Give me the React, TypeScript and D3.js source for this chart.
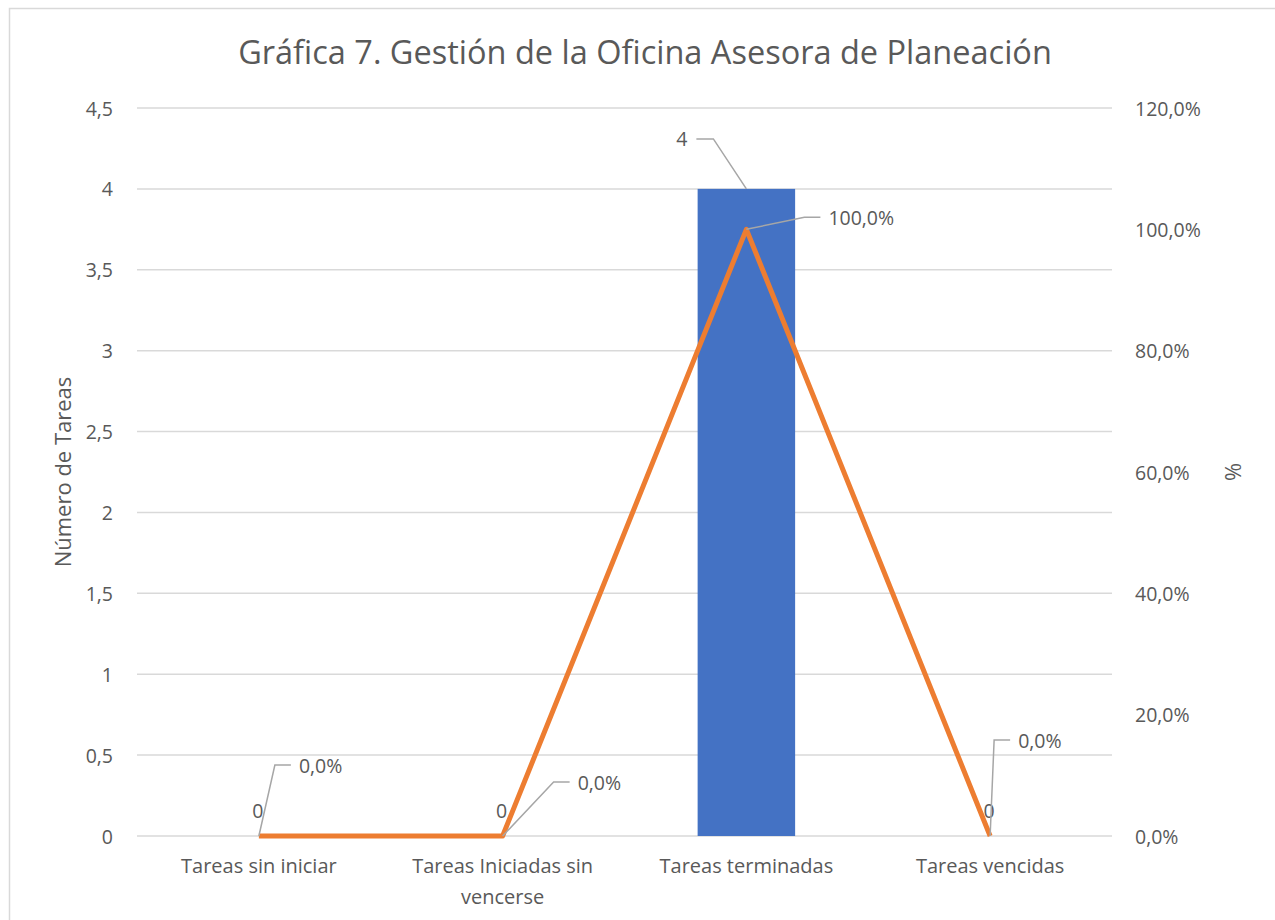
import { useMemo } from "react";
import * as d3 from "d3";

const categories = [
  ["Tareas sin iniciar"],
  ["Tareas Iniciadas sin", "vencerse"],
  ["Tareas terminadas"],
  ["Tareas vencidas"],
];
const tareas = [0, 0, 4, 0];
const porcentaje = [0, 0, 1, 0];
const leftTicks = [0, 0.5, 1, 1.5, 2, 2.5, 3, 3.5, 4, 4.5];
const rightTicks = [0, 0.2, 0.4, 0.6, 0.8, 1, 1.2];

const title = "Gráfica 7. Gestión de la Oficina Asesora de Planeación";
const yLabel = "Número de Tareas";
const y2Label = "%";

// manual placement of the data labels (dx, dy from the point), like the moved labels in the original
const barLabelOffsets = [
  { dx: 0, dy: -26, lead: false },
  { dx: 0, dy: -26, lead: false },
  { dx: -64, dy: -50, lead: true },
  { dx: 0, dy: -26, lead: false },
];
const lineLabelOffsets = [
  { dx: 40, dy: -71 },
  { dx: 75, dy: -54 },
  { dx: 82, dy: -12 },
  { dx: 28, dy: -96 },
];

const fmtLeft = (v: number) => String(v).replace(".", ",");
const fmtPct = (v: number) => (v * 100).toFixed(1).replace(".", ",") + "%";

const TEXT = "#595959";
const GRID = "#D9D9D9";
const FONT = "'Open Sans', Lato, sans-serif";

export default function App() {
  const width = 1275;
  const height = 920;
  const margin = { top: 108, right: 163, bottom: 84, left: 137 };
  const boundsWidth = width - margin.left - margin.right;
  const boundsHeight = height - margin.top - margin.bottom;

  const xScale = useMemo(
    () =>
      d3
        .scaleBand()
        .domain(categories.map((c) => c.join(" ")))
        .range([0, boundsWidth])
        .padding(0),
    [boundsWidth]
  );
  const yScale = useMemo(
    () => d3.scaleLinear().domain([0, 4.5]).range([boundsHeight, 0]),
    [boundsHeight]
  );
  const y2Scale = useMemo(
    () => d3.scaleLinear().domain([0, 1.2]).range([boundsHeight, 0]),
    [boundsHeight]
  );

  const cx = (i: number) =>
    (xScale(categories[i].join(" ")) ?? 0) + xScale.bandwidth() / 2;
  const barW = xScale.bandwidth() * 0.4;

  const linePath = d3
    .line<number>()
    .x((_, i) => cx(i))
    .y((d) => y2Scale(d))(porcentaje);

  return (
    <svg
      width={width}
      height={height}
      style={{ position: "absolute", left: 0, top: 0, display: "block" }}
      fontFamily={FONT}
    >
      <rect x={0} y={0} width={width} height={height} fill="#fff" />
      <rect
        x={9.5}
        y={8.5}
        width={width + 20}
        height={height + 20}
        fill="none"
        stroke={GRID}
        strokeWidth={1.5}
      />
      <text x={645} y={64} textAnchor="middle" fontSize={32.5} fill={TEXT}>
        {title}
      </text>

      <g transform={`translate(${margin.left},${margin.top})`}>
        {leftTicks.map((t) => (
          <g key={t}>
            <line
              x1={0}
              x2={boundsWidth}
              y1={yScale(t)}
              y2={yScale(t)}
              stroke={GRID}
              strokeWidth={1.5}
            />
            <text
              x={-24}
              y={yScale(t)}
              textAnchor="end"
              dominantBaseline="central"
              fontSize={19.5}
              fill={TEXT}
            >
              {fmtLeft(t)}
            </text>
          </g>
        ))}
        {rightTicks.map((t) => (
          <text
            key={t}
            x={boundsWidth + 23}
            y={y2Scale(t)}
            dominantBaseline="central"
            fontSize={19.5}
            fill={TEXT}
          >
            {fmtPct(t)}
          </text>
        ))}

        {tareas.map((v, i) =>
          v > 0 ? (
            <rect
              key={i}
              x={cx(i) - barW / 2}
              y={yScale(v)}
              width={barW}
              height={boundsHeight - yScale(v)}
              fill="#4472C4"
            />
          ) : null
        )}

        <path
          d={linePath ?? ""}
          fill="none"
          stroke="#ED7D31"
          strokeWidth={5}
          strokeLinejoin="round"
        />

        {tareas.map((v, i) => {
          const o = barLabelOffsets[i];
          const px = cx(i);
          const py = yScale(v);
          const lx = px + o.dx;
          const ly = py + o.dy;
          return (
            <g key={i}>
              {o.lead && (
                <polyline
                  points={`${px},${py} ${lx + 31},${ly} ${lx + 14},${ly}`}
                  fill="none"
                  stroke="#A6A6A6"
                  strokeWidth={1.5}
                />
              )}
              <text
                x={o.lead ? lx + 5 : px - 1}
                y={ly}
                textAnchor={o.lead ? "end" : "middle"}
                dominantBaseline="central"
                fontSize={19.5}
                fill={TEXT}
              >
                {v}
              </text>
            </g>
          );
        })}

        {porcentaje.map((v, i) => {
          const o = lineLabelOffsets[i];
          const px = cx(i);
          const py = y2Scale(v);
          const lx = px + o.dx;
          const ly = py + o.dy;
          return (
            <g key={i}>
              <polyline
                points={`${px},${py} ${lx - 24},${ly} ${lx - 8},${ly}`}
                fill="none"
                stroke="#A6A6A6"
                strokeWidth={1.5}
              />
              <text
                x={lx}
                y={ly}
                dominantBaseline="central"
                fontSize={19.5}
                fill={TEXT}
              >
                {fmtPct(v)}
              </text>
            </g>
          );
        })}

        {categories.map((lines, i) => (
          <text
            key={i}
            x={cx(i)}
            y={boundsHeight + 37}
            textAnchor="middle"
            fontSize={20}
            fill={TEXT}
          >
            {lines.map((l, j) => (
              <tspan key={j} x={cx(i)} dy={j === 0 ? 0 : 31}>
                {l}
              </tspan>
            ))}
          </text>
        ))}

        <text
          transform={`translate(${-75},${boundsHeight / 2}) rotate(-90)`}
          textAnchor="middle"
          dominantBaseline="central"
          fontSize={22}
          fill={TEXT}
        >
          {yLabel}
        </text>
        <text
          transform={`translate(${boundsWidth + 120},${boundsHeight / 2}) rotate(-90)`}
          textAnchor="middle"
          dominantBaseline="central"
          fontSize={22}
          fill={TEXT}
        >
          {y2Label}
        </text>
      </g>
    </svg>
  );
}
